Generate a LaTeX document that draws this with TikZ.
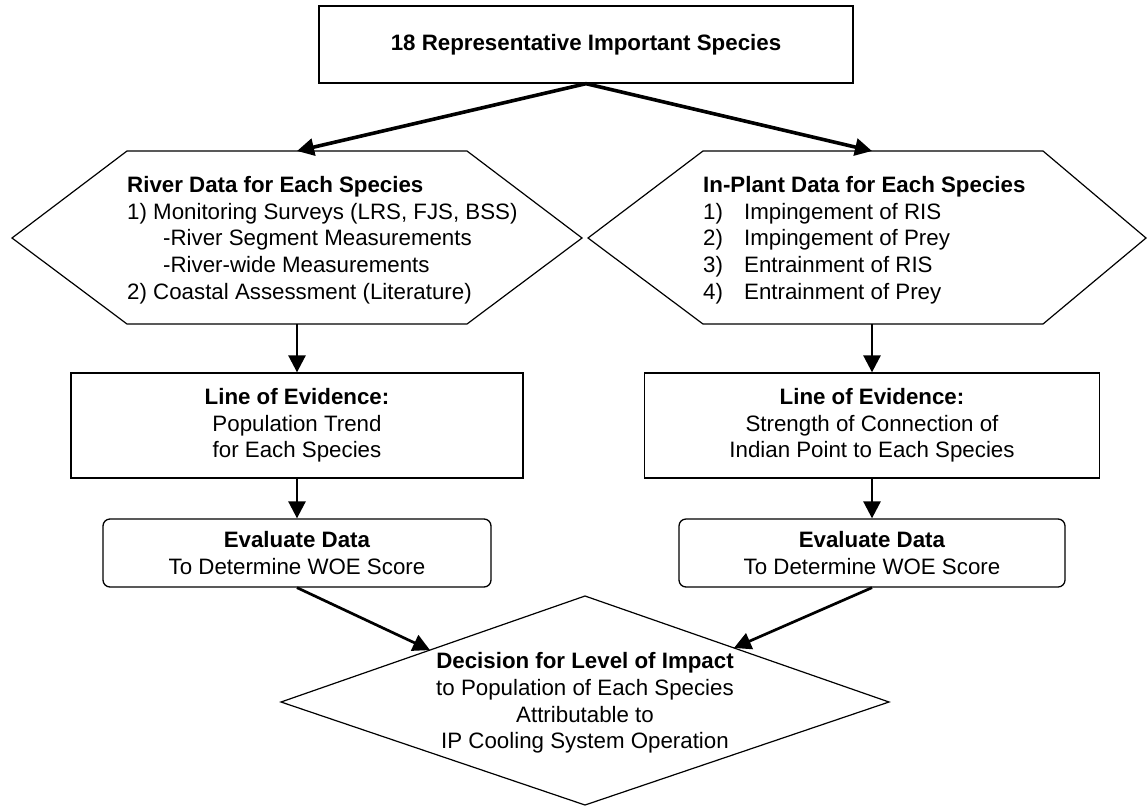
\documentclass[tikz,border=0pt]{standalone}
\usepackage{fontspec}
\setmainfont{Liberation Sans}
\usetikzlibrary{arrows.meta,calc}
\begin{document}
\begin{tikzpicture}[x=1pt,y=-1pt,
  every node/.style={font=\fontsize{22.3}{26.7}\selectfont, inner sep=0pt},
  ttl/.style={font=\fontsize{22.3}{26.7}\selectfont\bfseries},
  boxst/.style={draw, line width=1.3pt, fill=white},
  shapeline/.style={line width=1.2pt, line join=miter},
  arr/.style={line width=2.7pt, -{Triangle[length=17pt,width=17pt]}},
  bigarr/.style={line width=3.6pt, -{Triangle[length=17pt,width=17pt]}}]
\useasboundingbox (0,0) rectangle (1147,806);
\fill[white] (0,0) rectangle (1147,806);

% top box
\node[boxst, ttl, minimum width=534pt, minimum height=77pt] (top) at (586,44.5) {18 Representative Important Species};

% left hexagon
\draw[shapeline] (12,238) -- (127,151) -- (467,151) -- (582,238) -- (467,324) -- (127,324) -- cycle;
\coordinate (lhT) at (297,151);
\coordinate (lhB) at (297,324);
\node[anchor=west, align=left] (lhtxt) at (127,240) {\textbf{River Data for Each Species}\\1) Monitoring Surveys (LRS, FJS, BSS)\\\hspace*{36pt}-River Segment Measurements\\\hspace*{36pt}-River-wide Measurements\\2) Coastal Assessment (Literature)};

% right hexagon
\draw[shapeline] (588,238) -- (703,151) -- (1043,151) -- (1146,238) -- (1043,324) -- (703,324) -- cycle;
\coordinate (rhT) at (872,151);
\coordinate (rhB) at (872,324);
\node[anchor=west, align=left] (rhtxt) at (703,240) {\textbf{In-Plant Data for Each Species}\\\makebox[41pt][l]{1)}Impingement of RIS\\\makebox[41pt][l]{2)}Impingement of Prey\\\makebox[41pt][l]{3)}Entrainment of RIS\\\makebox[41pt][l]{4)}Entrainment of Prey};

% line of evidence boxes
\node[boxst, minimum width=452pt, minimum height=105pt, align=center] (loeL) at (297,425.5) {\textbf{Line of Evidence:}\\Population Trend\\for Each Species};
\node[boxst, minimum width=455pt, minimum height=105pt, align=center] (loeR) at (872,425.5) {\textbf{Line of Evidence:}\\Strength of Connection of\\Indian Point to Each Species};

% evaluate boxes
\node[boxst, rounded corners=7pt, minimum width=388pt, minimum height=68pt, align=center] (evL) at (297,553) {\textbf{Evaluate Data}\\To Determine WOE Score};
\node[boxst, rounded corners=7pt, minimum width=386pt, minimum height=68pt, align=center] (evR) at (872,553) {\textbf{Evaluate Data}\\To Determine WOE Score};

% decision diamond
\coordinate (dT) at (585,596);
\coordinate (dL) at (281,702);
\coordinate (dR) at (889,702);
\coordinate (dB) at (585,805);
\draw[shapeline] (dT) -- (dR) -- (dB) -- (dL) -- cycle;
\node[align=center] (dec) at (585,703) {\textbf{Decision for Level of Impact}\\to Population of Each Species\\Attributable to\\IP Cooling System Operation};

% connectors
\draw[bigarr] (top.south) -- (lhT);
\draw[bigarr] (top.south) -- (rhT);
\draw[arr] (lhB) -- (loeL.north);
\draw[arr] (rhB) -- (loeR.north);
\draw[arr] (loeL.south) -- (evL.north);
\draw[arr] (loeR.south) -- (evR.north);
\draw[arr] (evL.south) -- ($(dL)!0.49!(dT)$);
\draw[arr] (evR.south) -- ($(dR)!0.51!(dT)$);
\end{tikzpicture}
\end{document}
